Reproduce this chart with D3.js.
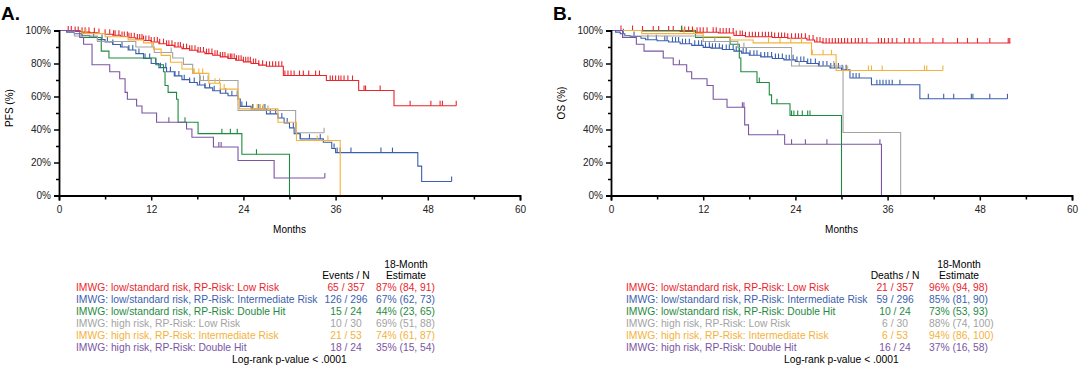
<!DOCTYPE html>
<html>
<head>
<meta charset="utf-8">
<script src="https://cdn.jsdelivr.net/npm/d3@7"></script>
<style>
  body { margin: 0; background: #fff; }
  text { font-family: Arial, "Liberation Sans", sans-serif; }
</style>
</head>
<body>
<script>
// group labels, shared by both panels
const groupLabels = [
  "IMWG: low/standard risk, RP-Risk: Low Risk",
  "IMWG: low/standard risk, RP-Risk: Intermediate Risk",
  "IMWG: low/standard risk, RP-Risk: Double Hit",
  "IMWG: high risk, RP-Risk: Low Risk",
  "IMWG: high risk, RP-Risk: Intermediate Risk",
  "IMWG: high risk, RP-Risk: Double Hit"
];
const groupColors = ["#e8262d", "#3b5fae", "#1f8a3f", "#a3a3a3", "#f4b23a", "#7b55a3"];

const xTicks = [0, 12, 24, 36, 48, 60];
const yTicks = [0, 20, 40, 60, 80, 100];

// ---- panel A: PFS, [month, survival %]
const pfsLowLow = [[0,100],[1,99.7],[2,99.4],[3,99],[4,98.6],[5,98.2],[6,97.7],[7,97.1],[8,96.4],[9,95.6],[10,94.8],[11,93.9],[12,93],[13,92],[14,91],[15,90],[16,89],[17,88],[18,87],[19,86],[20,85],[21,84],[22,83],[23,82],[24,81],[25,80],[26,79],[27,78.3],[29.2,72.7],[34.8,69.7],[39,63.6],[43.6,54.4],[51.7,54.4]];
const pfsLowInt = [[0,100],[1,99],[2,98],[3,97],[4,96],[5,94.5],[6,93],[7,91.5],[8,90],[9,88.2],[10,86],[11,83],[12,80],[13,77.5],[14,75],[15,72.5],[16,70.2],[17,68.5],[18,67],[19,65.2],[20,63.5],[21,62],[22,60.5],[23.3,58.5],[23.6,54],[25,52.5],[27,49.5],[28.5,47],[29.3,44],[30,41],[30.6,37.5],[31.4,34.3],[34.4,32.3],[35.5,28.5],[36,26],[46.7,17.8],[47.2,8.5],[51.1,8.5]];
const pfsLowDH = [[0,100],[3,95.8],[5.5,87.5],[6.5,83.3],[12.6,79.2],[13.6,75],[13.8,66.7],[14.2,62.5],[15.3,58.3],[15.5,44.4],[18.1,37.5],[23.8,25],[30,0]];
const pfsHighLow = [[0,100],[2,96.7],[5,93.3],[10,90],[12.4,86.7],[14.8,83.3],[16.2,79.5],[17.4,74],[18.3,69.7],[23.3,51.5],[30.8,38],[34.5,38]];
const pfsHighInt = [[0,100],[3,98.1],[6,96.2],[9,94.3],[11,92.5],[12.3,88.7],[13.3,84.9],[14.5,80.8],[16,76.7],[17.5,74],[19.5,68],[21,64.5],[23.3,58.4],[23.5,52.5],[28.5,44.4],[30.9,33.3],[36.6,0]];
const pfsHighDH = [[0,100],[2.7,95.8],[3.2,91.7],[4.3,79.2],[6.6,75],[7.9,70.8],[8.6,62.5],[8.9,58.3],[10.1,54.2],[10.8,50],[12.7,44.4],[16.6,40.3],[17.3,35.3],[20.1,29.4],[23.3,21.2],[28,10.6],[34.6,10.6]];

// censored times (months)
const pfsLowLowCens = [1.2,1.6,2.1,2.5,3.0,3.4,3.9,4.6,5.2,6.0,6.6,7.1,7.3,7.8,8.2,8.5,8.9,9.1,9.4,9.8,10.2,10.5,10.8,11.0,11.3,11.7,12.0,12.4,12.8,13.1,13.6,14.0,14.3,14.7,15.1,15.5,15.8,16.2,16.6,17.0,17.3,17.7,18.1,18.4,18.8,19.2,19.5,19.9,20.3,20.6,21.0,21.3,21.6,22.0,22.3,22.5,22.8,23.1,23.4,23.7,24.0,24.3,24.6,24.9,25.3,25.6,26.0,26.5,27.0,27.4,27.8,28.2,28.6,29.0,29.4,29.8,30.2,30.6,31.3,31.8,32.5,33.4,33.9,35.3,35.6,36.0,36.4,36.7,37.1,37.6,38.2,39.7,39.9,41.8,45.7,48.4,49.6,49.9,51.7];
const pfsLowIntCens = [4.5,5.6,6.3,7.0,8.2,9.1,9.6,10.4,11.2,11.8,12.6,13.2,13.9,14.5,15.1,15.6,16.3,17.0,17.6,18.3,19.0,19.6,20.2,21.0,21.7,22.5,23.2,23.8,24.4,25.2,26.0,26.8,27.5,28.2,29.0,29.7,30.5,31.4,32.6,34.0,35.8,36.2,36.6,38.0,41.9,43.4,51.1];
const pfsLowDHCens = [16.4,21.2,22.3,23.2,25.7];
const pfsHighLowCens = [12.1,14.6,18.4,18.8,19.4,26.5,27.2,34.5];
const pfsHighIntCens = [3.5,17.6,18.2,18.7,20.3,20.9,21.5,25.3,25.8,26.2,26.6,33.6,35.0];
const pfsHighDHCens = [14.3,20.8,21.1,34.6];

const pfsEvents = ["65 / 357", "126 / 296", "15 / 24", "10 / 30", "21 / 53", "18 / 24"];
const pfsEstimates = ["87% (84, 91)", "67% (62, 73)", "44% (23, 65)", "69% (51, 88)", "74% (61, 87)", "35% (15, 54)"];

// ---- panel B: OS
const osLowLow = [[0,100],[4,99.7],[9,99.4],[11,98.9],[14,98.5],[16,97],[17.5,96.2],[21,95.8],[23,95.3],[25.5,94.2],[26.5,93],[27.5,92.4],[52,92.4]];
const osLowInt = [[0,100],[0.6,99],[1.2,98],[1.8,97],[2.5,96.4],[3.9,95.3],[4.5,94.4],[6,93.8],[7.5,93],[9,92],[10.5,91],[12,89.8],[13,89.3],[14.5,88.5],[16,87.5],[17,86.3],[18,85],[19.5,84],[21,83],[22.5,82.2],[24,81.2],[25.5,80],[27,78.5],[28.5,77.3],[30,76.2],[31.1,71.2],[33.9,67.1],[40.2,58.6],[51.6,58.6]];
const osLowDH = [[0,100],[11,95.8],[15.5,91.7],[16.7,83.3],[16.9,75],[19,68.5],[20.6,61],[20.9,55.6],[23.3,48.5],[30,0]];
const osHighLow = [[0,100],[1.5,96.7],[12,93.3],[16.5,89.7],[23.5,78.5],[30.2,38.2],[37.7,0]];
const osHighInt = [[0,100],[4,98.1],[12,96.2],[15.5,94.2],[18.5,92.5],[26.1,85.3],[29.3,75.8],[43.2,75.8]];
const osHighDH = [[0,100],[1.5,95.8],[3.3,91.7],[4.3,87.5],[6.8,83.3],[8.1,79.2],[9.85,75],[10.5,70.8],[12.5,66.7],[13.3,58.3],[15.1,53.5],[17.4,42.8],[17.9,36.8],[22.6,31.1],[35.2,0]];

const osLowLowCens = [1.3,2.8,4.1,5.5,6.2,7.5,8.1,9.2,9.6,10.1,10.6,11.2,11.6,12.0,12.5,13.3,13.7,14.2,14.6,15.0,15.4,15.9,16.3,16.8,17.1,17.5,18.0,18.4,18.8,19.2,19.7,20.1,20.5,20.9,21.3,21.8,22.2,22.6,23.0,23.5,24.0,24.4,24.8,25.3,25.8,26.3,26.8,27.2,27.6,28.0,28.4,28.8,29.2,29.6,30.0,30.4,30.8,31.3,31.8,32.2,32.7,33.3,34.8,35.2,35.6,36.1,36.6,37.2,38.2,38.8,39.4,40.2,41.9,43.2,45.1,46.4,47.7,49.3,51.7,51.9];
const osLowIntCens = [1.6,3.0,4.8,5.9,7.0,7.3,8.0,8.4,8.8,9.3,9.7,10.2,10.9,11.4,11.8,12.3,12.8,13.2,13.6,14.1,14.5,15.0,15.4,15.9,16.3,16.7,17.2,17.6,18.1,18.6,19.0,19.5,20.0,20.4,20.9,21.4,21.8,22.3,22.8,23.2,23.7,24.2,24.7,25.1,25.6,26.0,26.6,27.1,27.6,28.1,28.6,29.1,29.6,30.1,30.6,31.5,31.9,32.3,34.6,35.0,35.4,35.8,36.2,36.6,37.6,41.3,43.3,44.6,46.9,47.1,49.3,51.6];
const osLowDHCens = [9.2,19.3,21.6,23.5,23.8,24.3,24.9,25.6,25.9];
const osHighLowCens = [13.5,17.3,24.5,29.0];
const osHighIntCens = [9.5,10.8,20.5,22.0,23.4,24.8,26.2,27.6,28.7,30.8,33.5,33.9,35.3,40.8,41.1,43.2];
const osHighDHCens = [8.9,17.1,17.3,21.7,23.5,25.3,28.1,35.0];

const osEvents = ["21 / 357", "59 / 296", "10 / 24", "6 / 30", "6 / 53", "16 / 24"];
const osEstimates = ["96% (94, 98)", "85% (81, 90)", "73% (53, 93)", "88% (74, 100)", "94% (86, 100)", "37% (16, 58)"];

const svg = d3.select("body").append("svg")
  .attr("width", 1080)
  .attr("height", 367);

function drawPanel(p) {
  var x = d3.scaleLinear().domain([0, 60]).range([p.left, p.left + 461]);
  var y = d3.scaleLinear().domain([0, 100]).range([195.5, 30.5]);
  var g = svg.append("g");
  var fs = 10.3;

  // curves
  var line = d3.line()
    .x(d => x(d[0]))
    .y(d => y(d[1]))
    .curve(d3.curveStepAfter);

  p.curves.forEach(function(steps, i) {
    g.append("path")
      .attr("d", line(steps))
      .attr("fill", "none")
      .attr("stroke", groupColors[i])
      .attr("stroke-width", 1.1);

    var bis = d3.bisector(d => d[0]).right;
    g.selectAll(null)
      .data(p.censors[i])
      .enter()
      .append("line")
      .attr("x1", t => x(t))
      .attr("x2", t => x(t))
      .attr("y1", t => y(steps[bis(steps, t) - 1][1]))
      .attr("y2", t => y(steps[bis(steps, t) - 1][1]) - 5)
      .attr("stroke", groupColors[i])
      .attr("stroke-width", 1.1);
  });

  // axes
  g.append("g")
    .attr("transform", "translate(" + p.left + ",0)")
    .call(d3.axisLeft(y).tickValues(yTicks).tickFormat(d => d + "%").tickSize(5).tickPadding(3));
  g.append("g")
    .attr("transform", "translate(" + p.left + ",0)")
    .call(d3.axisLeft(y).tickValues([10, 30, 50, 70, 90]).tickFormat("").tickSize(3))
    .select(".domain").remove();
  g.append("g")
    .attr("transform", "translate(0,195.5)")
    .call(d3.axisBottom(x).tickValues(xTicks).tickSize(5).tickPadding(5));
  g.append("g")
    .attr("transform", "translate(0,195.5)")
    .call(d3.axisBottom(x).tickValues([6, 18, 30, 42, 54]).tickFormat("").tickSize(4))
    .select(".domain").remove();

  g.selectAll(".domain").attr("stroke-width", 1.8);
  g.selectAll(".tick line").attr("stroke-width", 1.5);
  g.selectAll(".tick text").attr("font-size", 10).attr("fill", "#222");

  g.append("text")
    .attr("x", x(30)).attr("y", 233)
    .attr("text-anchor", "middle")
    .attr("font-size", 10)
    .text("Months");

  g.append("text")
    .attr("transform", "translate(" + (p.left - 46) + "," + p.yTitleY + ") rotate(-90)")
    .attr("text-anchor", "middle")
    .attr("font-size", 10)
    .text(p.yTitle);

  g.append("text")
    .attr("x", p.left - 58).attr("y", 20)
    .attr("font-size", 19)
    .attr("font-weight", "bold")
    .text(p.tag);

  // table below
  var rowY = d3.range(6).map(i => 291 + i * 12);
  g.selectAll(null).data(groupLabels).enter().append("text")
    .attr("x", p.labelX).attr("y", (d, i) => rowY[i])
    .attr("font-size", fs)
    .attr("fill", (d, i) => groupColors[i])
    .text(d => d);
  g.selectAll(null).data(p.events).enter().append("text")
    .attr("x", p.eventX).attr("y", (d, i) => rowY[i])
    .attr("text-anchor", "middle")
    .attr("font-size", fs)
    .attr("fill", (d, i) => groupColors[i])
    .text(d => d);
  g.selectAll(null).data(p.estimates).enter().append("text")
    .attr("x", p.estX).attr("y", (d, i) => rowY[i])
    .attr("font-size", fs)
    .attr("fill", (d, i) => groupColors[i])
    .text(d => d);

  g.append("text").attr("x", p.eventX).attr("y", 279)
    .attr("text-anchor", "middle").attr("font-size", fs).text(p.eventHead);
  g.append("text").attr("x", p.estX + 30).attr("y", 268)
    .attr("text-anchor", "middle").attr("font-size", fs).text("18-Month");
  g.append("text").attr("x", p.estX + 30).attr("y", 279)
    .attr("text-anchor", "middle").attr("font-size", fs).text("Estimate");
  g.append("text").attr("x", p.pX).attr("y", 363)
    .attr("font-size", fs).text("Log-rank p-value < .0001");
}

drawPanel({
  tag: "A.", left: 59, yTitle: "PFS (%)", yTitleY: 108,
  curves: [pfsLowLow, pfsLowInt, pfsLowDH, pfsHighLow, pfsHighInt, pfsHighDH],
  censors: [pfsLowLowCens, pfsLowIntCens, pfsLowDHCens, pfsHighLowCens, pfsHighIntCens, pfsHighDHCens],
  events: pfsEvents, estimates: pfsEstimates, eventHead: "Events / N",
  labelX: 76, eventX: 346, estX: 376, pX: 232
});

drawPanel({
  tag: "B.", left: 611, yTitle: "OS (%)", yTitleY: 103,
  curves: [osLowLow, osLowInt, osLowDH, osHighLow, osHighInt, osHighDH],
  censors: [osLowLowCens, osLowIntCens, osLowDHCens, osHighLowCens, osHighIntCens, osHighDHCens],
  events: osEvents, estimates: osEstimates, eventHead: "Deaths / N",
  labelX: 626, eventX: 895, estX: 929, pX: 784
});
</script>
</body>
</html>
